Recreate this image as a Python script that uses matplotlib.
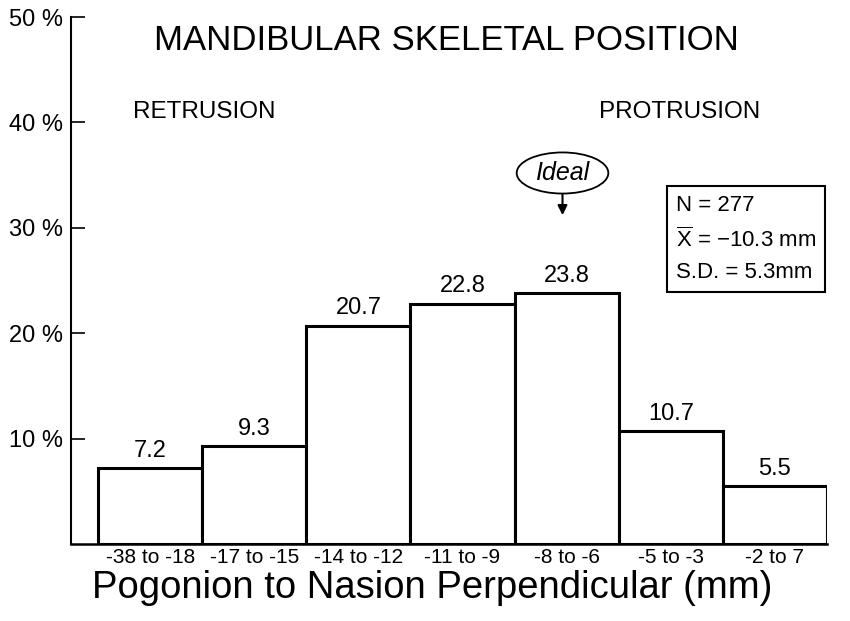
import matplotlib
matplotlib.use("Agg")
import matplotlib.pyplot as plt
from matplotlib.patches import Ellipse

plt.rcParams["font.family"] = ["Liberation Sans", "DejaVu Sans"]
plt.rcParams["mathtext.fontset"] = "custom"
plt.rcParams["mathtext.rm"] = "Liberation Sans"

categories = ["-38 to -18", "-17 to -15", "-14 to -12", "-11 to -9",
              "-8 to -6", "-5 to -3", "-2 to 7"]
percent = [7.2, 9.3, 20.7, 22.8, 23.8, 10.7, 5.5]
y_ticks = [10, 20, 30, 40, 50]
y_labels = ["10 %", "20 %", "30 %", "40 %", "50 %"]
ideal_index = 4

fig = plt.figure(figsize=(8.5, 6.21), dpi=100)
ax = fig.add_axes([71 / 850, 77 / 621, (827 - 71) / 850, (544 - 17) / 621])

x = list(range(len(categories)))
ax.bar(x, percent, width=1.0, facecolor="white", edgecolor="black",
       linewidth=2.2, zorder=3)

for xi, v in zip(x, percent):
    ax.text(xi, v + 0.6, "{:.1f}".format(v), ha="center", va="bottom",
            fontsize=17)

ax.set_xlim(-0.76, len(categories) - 0.5)
ax.set_ylim(0, 50)
ax.set_yticks(y_ticks)
ax.set_yticklabels(y_labels, fontsize=17)
ax.set_xticks(x)
ax.set_xticklabels(categories, fontsize=15)
ax.tick_params(axis="y", direction="in", length=10, width=1.2, pad=6)
ax.tick_params(axis="x", length=0, pad=3)

for side in ["top", "right"]:
    ax.spines[side].set_visible(False)
ax.spines["left"].set_linewidth(1.5)
ax.spines["bottom"].set_linewidth(1.8)

fig.text(446 / 850, 1 - 40 / 621, "MANDIBULAR SKELETAL POSITION",
         ha="center", va="center", fontsize=25)
fig.text(204 / 850, 1 - 112 / 621, "RETRUSION", ha="center", va="center",
         fontsize=17.5)
fig.text(680 / 850, 1 - 112 / 621, "PROTRUSION", ha="center", va="center",
         fontsize=17.5)
fig.text(432 / 850, 1 - 588 / 621, "Pogonion to Nasion Perpendicular (mm)",
         ha="center", va="center", fontsize=27.5)

# "Ideal" callout with arrow
ell_y = 35.2
ix = ideal_index - 0.04
ax.add_patch(Ellipse((ix, ell_y), 0.88, 3.9, facecolor="white",
                     edgecolor="black", linewidth=1.3, zorder=4))
ax.text(ix, ell_y, "Ideal", ha="center", va="center",
        fontsize=18, style="italic", zorder=5)
ax.annotate("", xy=(ix, 31.2), xytext=(ix, 33.25),
            arrowprops=dict(arrowstyle="-|>", color="black", lw=1.5,
                            mutation_scale=14, shrinkA=0, shrinkB=0))

stats = "N = 277\n$\\overline{\\mathrm{X}}$ = \u221210.3 mm\nS.D. = 5.3mm"
fig.text(676 / 850, 1 - 239 / 621, stats, ha="left", va="center",
         fontsize=16, linespacing=1.6,
         bbox=dict(boxstyle="square,pad=0.4", facecolor="white",
                   edgecolor="black", linewidth=1.5))

fig.savefig("out.png", dpi=100)
